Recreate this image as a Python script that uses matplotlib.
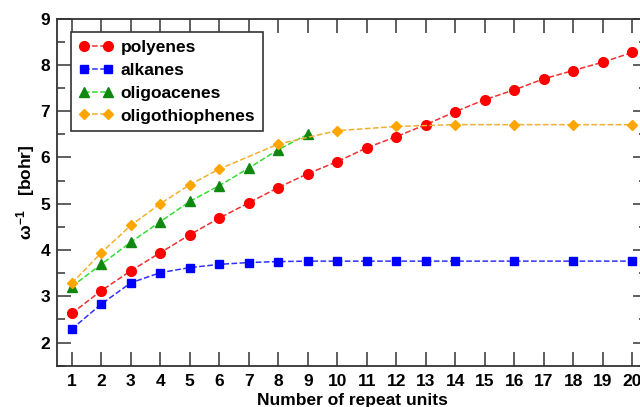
import numpy as np
import matplotlib
matplotlib.use('Agg')
from matplotlib import pyplot as plt

plt.rcParams['font.family'] = ['Liberation Sans', 'DejaVu Sans']
plt.rcParams['font.weight'] = 'bold'
plt.rcParams['mathtext.fontset'] = 'custom'
plt.rcParams['mathtext.rm'] = 'Liberation Sans'
plt.rcParams['mathtext.it'] = 'Liberation Sans'

poly_n = list(range(1, 21))
poly_w = [2.63, 3.12, 3.55, 3.94, 4.33, 4.69, 5.02, 5.35, 5.65, 5.91,
          6.21, 6.45, 6.71, 6.99, 7.25, 7.46, 7.70, 7.88, 8.06, 8.27]

alk_n = [1, 2, 3, 4, 5, 6, 7, 8, 9, 10, 11, 12, 13, 14, 16, 18, 20]
alk_w = [2.29, 2.83, 3.29, 3.51, 3.62, 3.69, 3.73, 3.75, 3.76, 3.76,
         3.76, 3.76, 3.76, 3.76, 3.76, 3.76, 3.76]

acene_n = [1, 2, 3, 4, 5, 6, 7, 8, 9]
acene_w = [3.21, 3.69, 4.17, 4.61, 5.05, 5.39, 5.77, 6.17, 6.50]

thio_n = [1, 2, 3, 4, 5, 6, 8, 10, 12, 14, 16, 18, 20]
thio_w = [3.28, 3.94, 4.53, 5.00, 5.41, 5.75, 6.29, 6.58, 6.67, 6.71,
          6.71, 6.71, 6.71]

xticks = list(range(1, 21))
yticks = [2, 3, 4, 5, 6, 7, 8, 9]


def make_plot():
    fig = plt.figure(figsize=(6.4, 4.07), dpi=100)
    # right spine sits just outside the picture, as in the reference
    ax = fig.add_axes([0.089, 0.1015, 0.922, 0.8526])

    ax.plot(poly_n, poly_w, ls='--', lw=1.1, color='#ee3030', marker='o', ms=7,
            mfc='#ff0000', mec='#ff0000', label='polyenes')
    ax.plot(alk_n, alk_w, ls='--', lw=1.1, color='#3030ff', marker='s', ms=5.5,
            mfc='#0000ff', mec='#0000ff', label='alkanes')
    ax.plot(acene_n, acene_w, ls='--', lw=1.1, color='#33dd33', marker='^', ms=7,
            mfc='#108810', mec='#108810', label='oligoacenes')
    ax.plot(thio_n, thio_w, ls='--', lw=1.1, color='#f0b030', marker='D', ms=5.5,
            mfc='#ffa500', mec='#ffa500', label='oligothiophenes')

    ax.set_xlim(0.5, 20.5)
    ax.set_ylim(1.5, 9)
    ax.set_xticks(xticks)
    ax.set_yticks(yticks)
    ax.set_yticks(np.arange(1.5, 9.01, 0.5), minor=True)
    ax.tick_params(which='major', direction='in', length=10, width=1.1,
                   top=True, right=True, labelsize=12.5, color='#333333')
    ax.tick_params(axis='x', pad=6)
    ax.tick_params(axis='y', pad=5)
    ax.tick_params(which='minor', direction='in', length=6, width=1.1,
                   right=True, color='#333333')
    for sp in ax.spines.values():
        sp.set_linewidth(1.3)
        sp.set_color('#333333')

    ax.set_xlabel('Number of repeat units', fontsize=12.5, fontweight='bold',
                  labelpad=3)
    ax.set_ylabel(r'$\omega^{-1}$   [bohr]', fontsize=12.5, fontweight='bold',
                  labelpad=2)

    leg = ax.legend(loc='upper left', bbox_to_anchor=(0.0237, 0.9625),
                    borderaxespad=0, fancybox=False, fontsize=12.5,
                    numpoints=2, handlelength=2.0, labelspacing=0.45,
                    handletextpad=0.4, borderpad=0.45)
    leg.get_frame().set_edgecolor('#333333')
    leg.get_frame().set_linewidth(1.2)
    leg.get_frame().set_alpha(1)

    fig.savefig('out.png', dpi=100)
    plt.close(fig)


make_plot()
